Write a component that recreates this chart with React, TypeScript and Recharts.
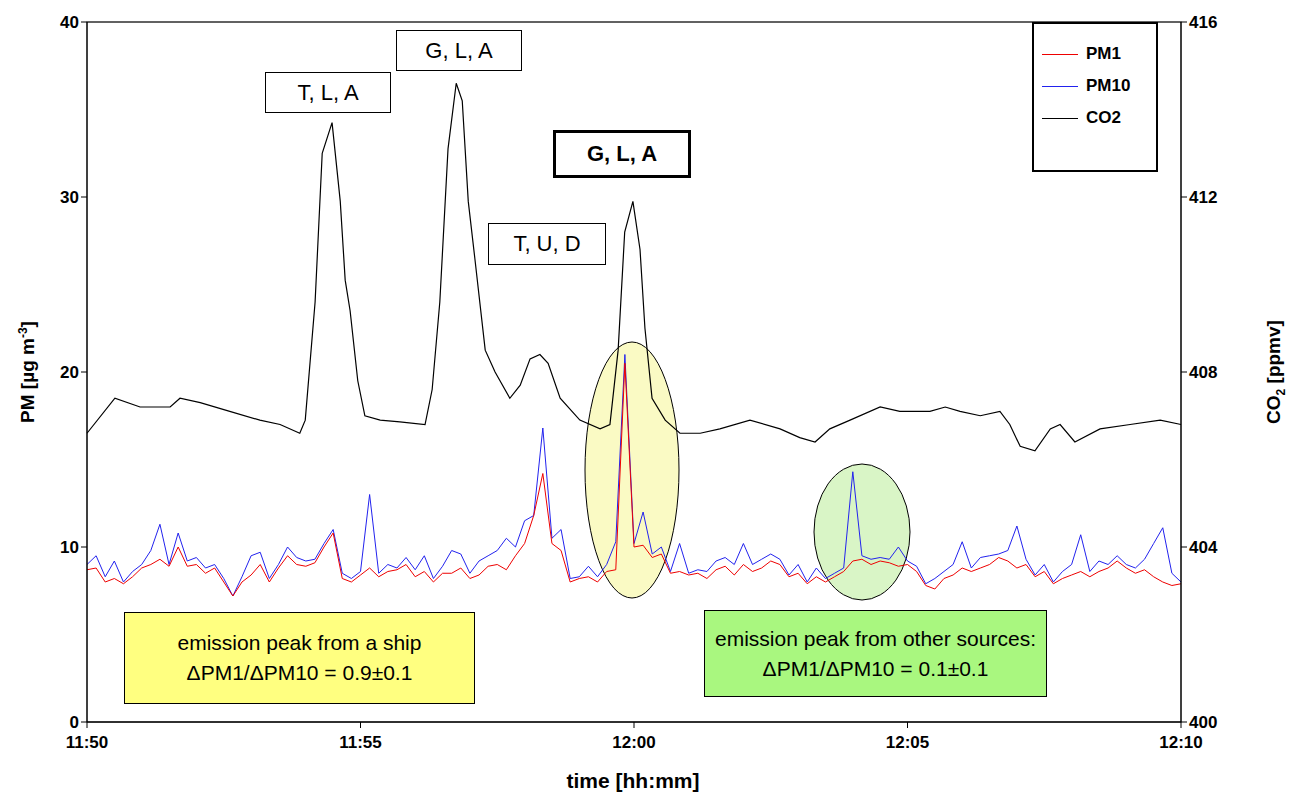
import React from "react";
import {
  CartesianGrid,
  Line,
  LineChart,
  XAxis,
  YAxis,
} from "recharts";

// minutes after 11:50
const co2Times = [
  0, 0.51, 0.97, 1.52, 1.7, 2.07, 2.61, 3.16, 3.53, 3.89, 3.99, 4.17, 4.3, 4.48,
  4.63, 4.72, 4.81, 4.95, 5.08, 5.36, 5.72, 6.18, 6.31, 6.45, 6.6, 6.75, 6.86,
  6.97, 7.09, 7.28, 7.46, 7.73, 7.92, 8.1, 8.28, 8.43, 8.65, 9.01, 9.38, 9.56,
  9.71, 9.83, 9.98, 10.11, 10.2, 10.33, 10.57, 10.84, 11.21, 11.57, 12.12,
  12.67, 13.03, 13.31, 13.58, 13.95, 14.5, 14.86, 15.41, 15.69, 15.96, 16.33,
  16.69, 16.87, 17.06, 17.33, 17.61, 17.79, 18.06, 18.52, 19.07, 19.62, 20,
];
const co2Values = [
  406.6, 407.4, 407.2, 407.2, 407.4, 407.3, 407.1, 406.9, 406.8, 406.6, 406.9,
  409.6, 413.0, 413.7, 411.9, 410.1, 409.4, 407.8, 407.0, 406.9, 406.86, 406.8,
  407.6, 409.6, 413.1, 414.6, 414.2, 411.9, 410.6, 408.5, 408.0, 407.4, 407.7,
  408.3, 408.4, 408.2, 407.4, 406.9, 406.7, 406.8, 408.5, 411.2, 411.9, 410.8,
  409.0, 407.4, 406.9, 406.6, 406.6, 406.7, 406.9, 406.7, 406.5, 406.4, 406.7,
  406.9, 407.2, 407.1, 407.1, 407.2, 407.1, 407.0, 407.1, 406.8, 406.3, 406.2,
  406.7, 406.8, 406.4, 406.7, 406.8, 406.9, 406.8,
];

// PM sampled every 10 s
const pm1 = [
  8.7, 8.8, 8.0, 8.2, 7.9, 8.3, 8.8, 9.0, 9.3, 8.9, 10.0, 8.9, 9.0, 8.5, 8.8,
  8.0, 7.2, 8.0, 8.4, 9.0, 8.0, 8.8, 9.5, 9.0, 8.9, 9.1, 10.0, 10.8, 8.2, 8.0,
  8.4, 8.8, 8.3, 8.6, 8.7, 9.0, 8.3, 8.6, 8.0, 8.5, 8.5, 8.8, 8.2, 8.4, 8.9,
  9.0, 8.7, 9.5, 10.2, 11.8, 14.2, 10.2, 9.8, 8.0, 8.2, 8.3, 8.0, 8.6, 8.7,
  20.5, 10.0, 10.1, 9.4, 9.6, 8.5, 8.6, 8.4, 8.5, 8.2, 8.7, 8.9, 8.4, 9.0, 8.6,
  8.8, 9.2, 9.0, 8.3, 8.5, 7.9, 8.3, 8.0, 8.3, 8.6, 9.2, 9.3, 9.0, 9.2, 9.1,
  8.9, 9.0, 8.6, 7.8, 7.6, 8.2, 8.4, 8.8, 8.6, 8.8, 9.0, 9.4, 9.2, 8.8, 9.0,
  8.3, 8.6, 7.9, 8.2, 8.4, 8.6, 8.3, 8.6, 8.8, 9.2, 8.8, 8.5, 8.7, 8.3, 8.0,
  7.8, 7.9,
];
const pm10 = [
  9.0, 9.5, 8.3, 9.2, 8.0, 8.6, 9.0, 9.8, 11.3, 9.0, 10.8, 9.2, 9.4, 8.8, 9.0,
  8.2, 7.2, 8.3, 9.5, 9.7, 8.2, 9.0, 10.0, 9.4, 9.2, 9.3, 10.2, 11.0, 8.5, 8.2,
  8.6, 13.0, 8.5, 9.0, 8.8, 9.4, 8.7, 9.5, 8.2, 8.9, 9.8, 9.6, 8.5, 9.2, 9.5,
  9.8, 10.5, 10.0, 11.5, 11.8, 16.8, 10.5, 11.0, 8.2, 8.3, 8.9, 8.3, 9.0, 10.3,
  21.0, 10.2, 12.0, 9.6, 10.0, 8.6, 10.2, 8.5, 8.7, 8.6, 9.2, 9.4, 9.0, 10.2,
  9.0, 9.3, 9.6, 9.3, 8.4, 9.0, 8.0, 8.8, 8.2, 8.5, 8.8, 14.3, 9.5, 9.3, 9.4,
  9.3, 10.0, 9.2, 8.9, 7.9, 8.2, 8.6, 9.0, 10.3, 8.8, 9.4, 9.5, 9.6, 9.8, 11.2,
  9.3, 8.4, 9.0, 8.0, 8.6, 9.0, 10.7, 8.6, 9.2, 9.0, 9.5, 9.0, 8.8, 9.3, 10.2,
  11.1, 8.5, 8.0,
];

const xTicks = [0, 5, 10, 15, 20];
const xTickLabels = ["11:50", "11:55", "12:00", "12:05", "12:10"];

const pmData = pm1.map((v, i) => ({ t: i / 6, pm1: v, pm10: pm10[i] }));
const co2Data = co2Times.map((t, i) => ({ t, co2: co2Values[i] }));

const FONT = "'Liberation Sans', Arial, sans-serif";
const tickStyle = { fontSize: 17, fontWeight: 700, fill: "#000", fontFamily: FONT };

const box = (
  left: number,
  top: number,
  w: number,
  h: number,
  extra: React.CSSProperties = {}
): React.CSSProperties => ({
  position: "absolute",
  left,
  top,
  width: w,
  height: h,
  border: "1px solid #000",
  background: "#fff",
  boxSizing: "border-box",
  display: "flex",
  alignItems: "center",
  justifyContent: "center",
  fontFamily: FONT,
  fontSize: 22,
  ...extra,
});

export default function App() {
  return (
    <div style={{ position: "relative", width: 1286, height: 792, fontFamily: FONT }}>
      <svg width={1286} height={792} style={{ position: "absolute", left: 0, top: 0 }}>
        <ellipse cx={624} cy={462} rx={47} ry={128} fill="#fafac4" stroke="#000" />
        <ellipse cx={854} cy={524} rx={48} ry={68} fill="#d9f5c6" stroke="#000" />
      </svg>
      <div style={{ position: "absolute", left: 0, top: 0 }}>
        <LineChart
          width={1286}
          height={792}
          margin={{ top: 14, right: 53, left: 39, bottom: 43 }}
        >
          <CartesianGrid vertical={false} stroke="#888" />
          <XAxis
            type="number"
            dataKey="t"
            domain={[0, 20]}
            ticks={xTicks}
            tickFormatter={(v) => xTickLabels[xTicks.indexOf(v)]}
            tick={{ ...tickStyle, dy: 6 }}
            stroke="#000"
            height={35}
            allowDuplicatedCategory={false}
          />
          <YAxis
            yAxisId="pm"
            domain={[0, 40]}
            ticks={[0, 10, 20, 30, 40]}
            tick={tickStyle}
            stroke="#000"
            width={40}
          />
          <YAxis
            yAxisId="co2"
            orientation="right"
            domain={[400, 416]}
            ticks={[400, 404, 408, 412, 416]}
            tick={tickStyle}
            stroke="#000"
            width={60}
          />
          <Line
            yAxisId="co2"
            data={co2Data}
            dataKey="co2"
            stroke="#000"
            strokeWidth={1.2}
            dot={false}
            isAnimationActive={false}
          />
          <Line
            yAxisId="pm"
            data={pmData}
            dataKey="pm10"
            stroke="#2222ee"
            strokeWidth={1}
            dot={false}
            isAnimationActive={false}
          />
          <Line
            yAxisId="pm"
            data={pmData}
            dataKey="pm1"
            stroke="#ee0000"
            strokeWidth={1}
            dot={false}
            isAnimationActive={false}
          />
        </LineChart>
      </div>
      <svg width={1286} height={792} style={{ position: "absolute", left: 0, top: 0, pointerEvents: "none" }}>
        <rect x={79} y={14} width={1094} height={700} fill="none" stroke="#000" />
        <text x={26} y={364} transform="rotate(-90 26 364)" textAnchor="middle" fontSize={19} fontWeight={700} fontFamily={FONT}>
          PM [µg m<tspan dy={-7} fontSize={12}>-3</tspan><tspan dy={7}>]</tspan>
        </text>
        <text x={1272} y={364} transform="rotate(-90 1272 364)" textAnchor="middle" fontSize={19} fontWeight={700} fontFamily={FONT}>
          CO<tspan dy={5} fontSize={12}>2</tspan><tspan dy={-5}> [ppmv]</tspan>
        </text>
        <text x={625} y={780} textAnchor="middle" fontSize={21} fontWeight={700} fontFamily={FONT}>
          time [hh:mm]
        </text>
      </svg>
      <div style={box(257, 64, 126, 41)}>T, L, A</div>
      <div style={box(388, 22, 126, 41)}>G, L, A</div>
      <div style={box(545, 122, 138, 48, { border: "3px solid #000", fontWeight: 700 })}>G, L, A</div>
      <div style={box(480, 215, 118, 42)}>T, U, D</div>
      <div style={box(116, 604, 351, 92, { background: "#ffff80", fontSize: 21, flexDirection: "column", lineHeight: "30px" })}>
        <div>emission peak from a ship</div>
        <div>ΔPM1/ΔPM10 = 0.9±0.1</div>
      </div>
      <div style={box(696, 602, 343, 87, { background: "#a9f77f", fontSize: 21, flexDirection: "column", lineHeight: "30px" })}>
        <div>emission peak from other sources:</div>
        <div>ΔPM1/ΔPM10 = 0.1±0.1</div>
      </div>
      <div
        style={{
          position: "absolute",
          left: 1024,
          top: 14,
          width: 126,
          height: 150,
          border: "2px solid #000",
          background: "#fff",
          boxSizing: "border-box",
          padding: "18px 0 0 8px",
          fontSize: 17,
          fontWeight: 700,
        }}
      >
        {[
          ["PM1", "#ee0000"],
          ["PM10", "#2222ee"],
          ["CO2", "#000"],
        ].map(([n, c]) => (
          <div key={n} style={{ display: "flex", alignItems: "center", height: 40, marginTop: -8 }}>
            <span style={{ display: "inline-block", width: 36, height: 0, borderTop: `1px solid ${c}`, marginRight: 8 }} />
            {n}
          </div>
        ))}
      </div>
    </div>
  );
}
